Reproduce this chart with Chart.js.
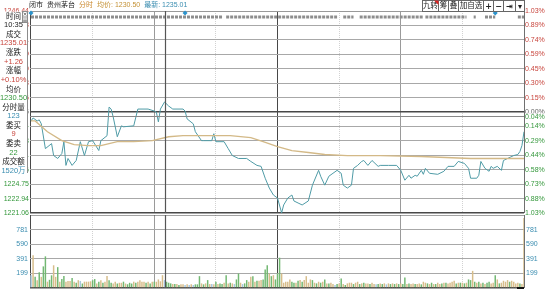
<!DOCTYPE html>
<html>
<head>
<meta charset="utf-8">
<script src="https://cdn.jsdelivr.net/npm/chart.js@4.4.1/dist/chart.umd.min.js"></script>
<style>
  body { margin: 0; background: #fff; }
  #box { position: relative; width: 550px; height: 289px; overflow: hidden; }
  #box canvas { position: absolute; left: 0; }
</style>
</head>
<body>
<div id="box">
  <canvas id="priceChart" width="550" height="217" style="top:0"></canvas>
  <canvas id="volChart" width="550" height="74" style="top:215px"></canvas>
</div>
<script>
// 贵州茅台 分时 (minute index 0 = 9:30, 240 = 15:00)
const prevClose = 1233.75;
const priceMax = 1246.44;
const priceMin = 1221.06;
const cursorMinute = 65;     // 10:35
const cursorPct = -0.04;

// [minute, price]
const priceTrace = [
  [0,1232.63],[1,1233.00],[3,1232.63],[4,1232.76],[5,1232.26],[7,1229.15],[10,1229.78],[11,1228.28],
  [13,1227.91],[15,1228.53],[16,1230.02],[17,1227.04],[18,1227.91],[20,1227.04],[22,1227.66],[24,1230.02],
  [26,1228.28],[28,1230.02],[30,1230.15],[33,1228.91],[34,1230.15],[37,1230.77],[38,1234.37],[39,1234.12],
  [40,1233.13],[42,1230.64],[44,1232.01],[45,1231.89],[50,1232.01],[52,1234.12],[57,1234.12],[60,1233.87],
  [61,1233.75],[62,1232.51],[63,1234.12],[65,1235.01],[67,1234.50],[69,1234.12],[74,1234.12],[75,1233.87],
  [76,1232.88],[79,1232.26],[80,1231.27],[83,1230.15],[84,1230.15],[88,1230.15],[89,1231.02],[90,1230.02],
  [94,1230.02],[96,1229.15],[98,1228.28],[101,1227.91],[105,1227.91],[107,1227.54],[110,1227.04],[112,1226.92],
  [114,1225.43],[116,1224.19],[118,1223.32],[120,1222.94],[122,1221.08],[123,1222.07],[125,1222.94],[127,1223.32],
  [128,1222.57],[130,1222.32],[132,1222.07],[135,1222.57],[137,1224.56],[140,1226.42],[141,1225.68],[143,1224.56],
  [145,1225.68],[147,1226.05],[149,1226.42],[151,1226.05],[152,1224.56],[154,1224.19],[156,1224.56],[157,1226.67],
  [159,1227.04],[161,1227.54],[162,1227.66],[164,1227.04],[166,1227.66],[169,1226.92],[170,1227.04],[174,1227.04],
  [178,1227.04],[180,1226.42],[182,1225.18],[184,1225.80],[185,1225.43],[187,1225.80],[188,1225.68],[190,1226.42],
  [191,1225.92],[192,1226.67],[194,1226.05],[198,1225.92],[201,1226.30],[203,1226.92],[206,1226.92],[208,1227.54],
  [211,1227.29],[213,1226.67],[214,1225.43],[217,1225.43],[218,1225.80],[219,1227.54],[221,1226.67],[223,1226.30],
  [224,1226.92],[225,1226.67],[227,1226.92],[229,1226.42],[230,1227.66],[232,1227.91],[235,1228.28],[237,1228.41],
  [238,1228.78],[239,1229.53],[240,1231.27]
];

// [minute, average price]
const avgTrace = [
  [0,1232.63],[2,1232.63],[8,1231.27],[15,1230.15],[21,1229.66],[28,1229.53],[34,1229.53],[42,1230.02],
  [50,1230.02],[59,1230.15],[67,1230.64],[74,1230.77],[97,1230.77],[107,1230.52],[113,1230.02],[120,1229.40],
  [127,1228.91],[135,1228.66],[143,1228.41],[154,1228.28],[170,1228.28],[190,1228.16],[214,1227.91],[240,1227.91]
];

// per-minute volume (手), minute 0..240
const volumes = [
  170,440,150,105,210,150,290,425,85,110, 170,305,150,280,85,120,160,85,95,95,
  135,85,70,105,95,60,85,85,85,90, 105,120,60,85,105,70,85,160,105,70,
  60,85,60,70,70,85,60,50,70,60, 85,70,85,105,85,85,70,85,60,85, 85,
  84,115,90,172,106,84,71,62,53,53, 53,40,49,49,40,49,40,49,40,49,
  49,159,62,49,62,106,53,53,49,84, 53,62,53,71,172,62,71,62,53,115,
  194,71,53,62,106,84,150,159,84,97, 97,106,115,248,305,194,159,172,115,
  194,407,194, 71,84,84,115,84,71,71,97,106,84, 106,159,71,115,106,71,62,84,71,84,
  115,62,62,71,53,40,53,62,128,53, 40,62,71,71,53,71,84,53,62,71,
  62,62,53,71,53,49,53,62,53,62, 49,62,53,62,53, 62,53,62,
  53,141,53,62,53,62,53,53,62,49, 84,71,62,53,71,53,53,71,53,62,
  71,71,62,71,84,97,62,71,71,71, 62,71,115,106,230,84,71,84,62,71,
  53,71,84,62,71,172,115,62,71,97, 84,106,84,97,84,62, 71,62,53, 940
];

// 1 = 外盘(up), -1 = 内盘(down), 0 = 平
const volDir = [
  0,1,-1,1,-1,1,-1,-1,1,-1, -1,1,1,-1,1,-1,-1,1,1,1, -1,1,-1,1,0,-1,1,1,1,1,
  -1,-1,1,-1,1,-1,1,1,-1,-1, 1,1,-1,1,1,-1,1,-1,-1,-1, 1,-1,1,1,1,1,-1,1,-1,1, -1,
  1,1,1,1,0,-1,-1,-1,1,-1, 1,-1,1,1,0,1,0,1,0,-1, -1,-1,1,-1,1,-1,1,0,1,-1,
  1,-1,-1,1,-1,1,-1,1,0,-1, -1,1,0,-1,-1,1,1,-1,1,-1, 1,1,-1,-1,-1,1,-1,1,-1,
  -1,-1,1, 1,1,1,1,-1,-1,1,-1,1,-1, 1,1,1,1,-1,1,-1,1,-1,1, -1,1,-1,1,1,0,-1,1,-1,1,
  -1,1,1,1,-1,1,1,-1,1,-1, 1,1,-1,1,1,0,-1,1,-1,1, 0,1,-1,1,-1, 1,-1,1,
  -1,-1,1,-1,1,1,-1,1,1,-1, 1,1,-1,1,-1,1,-1,1,1,-1, 1,-1,1,1,1,1,-1,1,-1,1,
  -1,1,-1,-1,1,-1,1,-1,1,-1, 1,-1,-1,1,1,-1,1,-1,1,1, 1,1,-1,1,1,1, 1,-1,1, 1
];

const gridMinutes = [-0.5, 30, 60, 90, 120, 150, 180, 210, 240];
const leftPriceLabels = ['1246.44','1244.63','1242.81','1241.00','1239.19','1237.38','1235.56','1233.75',
                         '1231.94','1230.13','1228.31','1226.56','1224.75','1222.94','1221.06'];
const pctLabels = ['1.03%','0.89%','0.74%','0.59%','0.45%','0.30%','0.15%','0.00%',
                   '0.14%','0.29%','0.44%','0.58%','0.73%','0.88%','1.03%'];
const volTickValues = [199, 391, 590, 781];
const volMax = 980;

const markerSegments = [[0,93],[95,149],[152,157],[160,191],[192,212],[215.5,216.5],[221,226],[237,240]];
const infoMarkers = [0, 75, 226];

const panelLabels = ['时间','成交','涨跌','涨幅','均价','分时量','委买','委卖','成交额'];
const panelValues = ['10:35','1235.01','+1.26','+0.10%','1230.50','123','9','22','1520万'];

const RED = '#c8453d', GREEN = '#35983c', TEAL = '#3a8db0', GRID = '#a8a8a8', DARK = '#484848';
const FONT = '"Liberation Sans", "Noto Sans CJK SC", sans-serif';
Chart.defaults.font.family = FONT;
Chart.defaults.font.size = 7;
Chart.defaults.animation = false;

function axisSteps(min, max, n) {
  const out = [];
  for (let i = 0; i <= n; i++) out.push(min + (max - min) * i / n);
  return out;
}
function sideColor(j) { return j < 7 ? RED : (j === 7 ? '#666' : GREEN); }

function xGridColor(v) {
  if (v === -0.5 || v === 120) return DARK;
  if (v === 240) return '#707070';
  if (v === 60 || v === 180) return '#9a9a9a';
  return '#d2d2d2';
}
function makeX() {
  return {
    type: 'linear', min: -0.5, max: 240, offset: false,
    afterBuildTicks: s => { s.ticks = gridMinutes.map(v => ({ value: v })); },
    afterFit: s => { s.height = 0; },
    ticks: { display: false },
    grid: { offset: false, drawTicks: false, lineWidth: 1, color: c => xGridColor(c.tick ? c.tick.value : 0) },
    border: { display: false, dash: c => (c.tick && xGridColor(c.tick.value) === '#d2d2d2') ? [1, 1] : [] }
  };
}
function noPad(w) {
  return s => { s.width = w; s.paddingTop = 0; s.paddingBottom = 0; };
}

const priceTicks = () => axisSteps(priceMin, priceMax, 14).map(v => ({ value: v }));
const pctPrice = prevClose * (1 + cursorPct / 100);

const crosshairV = {
  id: 'crosshairV',
  afterDatasetsDraw(chart) {
    const c = chart.ctx, a = chart.chartArea;
    const x = Math.round(chart.scales.x.getPixelForValue(cursorMinute)) + 0.5;
    c.save();
    c.strokeStyle = '#555';
    c.lineWidth = 1.2;
    c.beginPath(); c.moveTo(x, a.top); c.lineTo(x, a.bottom); c.stroke();
    c.restore();
  }
};

const pricePanel = {
  id: 'pricePanel',
  afterDraw(chart) {
    const c = chart.ctx, a = chart.chartArea;
    c.save();
    // horizontal crosshair
    const cy = Math.round(chart.scales.yPrice.getPixelForValue(pctPrice)) + 0.5;
    c.strokeStyle = '#888'; c.lineWidth = 1;
    c.beginPath(); c.moveTo(a.left, cy); c.lineTo(a.right, cy); c.stroke();
    c.fillStyle = '#fff'; c.fillRect(a.right + 1, cy - 3, 26, 8);
    c.font = '7px ' + FONT; c.textBaseline = 'middle'; c.fillStyle = GREEN;
    c.fillText(Math.abs(cursorPct).toFixed(2) + '%', a.right + 1, cy + 1);

    // header
    const parts = [['闭市', '#222'], ['贵州茅台', '#222'], ['分时', '#cc8a30'],
                   ['均价: ' + panelValues[4], '#c49236'], ['最新: ' + panelValues[1], TEAL]];
    let hx = 29;
    c.font = '7px ' + FONT;
    parts.forEach(([t, col]) => { c.fillStyle = col; c.fillText(t, hx, 5.5); hx += c.measureText(t).width + 4; });

    // buttons
    const btn = ['九转', '筹', '叠', '加自选', '+', '−', '⇥', '▾'];
    const edges = [422, 438, 448, 458, 483, 493, 503, 515, 524];
    c.textAlign = 'center';
    btn.forEach((t, i) => {
      const x0 = edges[i] + 0.5, w = edges[i + 1] - edges[i];
      c.fillStyle = '#fff'; c.fillRect(x0, 0.5, w, 11);
      c.strokeStyle = '#666'; c.strokeRect(x0, 0.5, w, 11);
      c.fillStyle = '#222';
      c.font = (i >= 4 ? 'bold 8px ' : '7.5px ') + '"DejaVu Sans", "Noto Sans CJK SC", sans-serif';
      c.fillText(t, x0 + w / 2, 6.5);
    });
    c.fillStyle = '#d22';
    c.beginPath(); c.moveTo(434, 0.5); c.lineTo(438.5, 0.5); c.lineTo(438.5, 5); c.closePath(); c.fill();

    // info panel
    c.fillStyle = '#fff'; c.fillRect(0, 11.5, 27.5, 165);
    c.strokeStyle = '#8c8c8c'; c.lineWidth = 1;
    c.beginPath(); c.moveTo(27.5, 11); c.lineTo(27.5, 173); c.stroke();
    c.strokeRect(22.5, 11.5, 5, 11);
    c.beginPath(); c.moveTo(22.5, 17); c.lineTo(27.5, 17); c.stroke();
    c.fillStyle = '#444'; c.font = '6px "DejaVu Sans"';
    c.fillText('×', 25, 14.5); c.fillText('≡', 25, 20);
    const valColors = ['#222', RED, RED, RED, GREEN, TEAL, RED, GREEN, TEAL];
    panelLabels.forEach((lab, i) => {
      c.fillStyle = '#222'; c.font = '7.5px "Noto Sans CJK SC", sans-serif';
      c.fillText(lab, 13.5, 16 + 9.1 * (2 * i));
      c.fillStyle = valColors[i]; c.font = '7.5px ' + FONT;
      c.fillText(panelValues[i], 13.5, 16 + 9.1 * (2 * i + 1));
    });
    c.restore();
  }
};

const volChrome = {
  id: 'volChrome',
  afterDraw(chart) {
    const c = chart.ctx, a = chart.chartArea;
    c.save();
    c.fillStyle = '#111';
    c.fillRect(a.right - 7, a.bottom - 1, 7, 3);
    c.restore();
  }
};

new Chart(document.getElementById('priceChart'), {
  type: 'line',
  data: {
    datasets: [
      {
        data: markerSegments.flatMap(([s, e]) => [{ x: s, y: 97 }, { x: e, y: 97 }, { x: e, y: null }]),
        yAxisID: 'yMark', borderColor: '#8d8d8d', borderWidth: 3, borderDash: [3, 1],
        pointRadius: 0, spanGaps: false
      },
      {
        data: infoMarkers.map(m => ({ x: m, y: 99 })),
        yAxisID: 'yMark', showLine: false, pointStyle: 'rectRot', pointRadius: 2.5,
        pointBackgroundColor: '#2b93cc', pointBorderWidth: 0, clip: false
      },
      {
        data: avgTrace.map(([m, p]) => ({ x: m, y: p })),
        yAxisID: 'yPrice', borderColor: '#d3b987', borderWidth: 1.3, pointRadius: 0, tension: 0
      },
      {
        data: priceTrace.map(([m, p]) => ({ x: m, y: p })),
        yAxisID: 'yPrice', borderColor: '#4f9ba6', borderWidth: 1, pointRadius: 0, tension: 0
      }
    ]
  },
  options: {
    responsive: false,
    devicePixelRatio: 1,
    layout: { padding: { top: 11, bottom: 2, left: 0, right: 0 } },
    plugins: { legend: { display: false }, tooltip: { enabled: false } },
    scales: {
      x: makeX(),
      yPrice: {
        position: 'left', min: priceMin, max: priceMax,
        afterBuildTicks: s => { s.ticks = priceTicks(); },
        afterFit: noPad(30),
        ticks: { padding: 1, autoSkip: false, callback: (v, i) => leftPriceLabels[14 - i], color: c => sideColor(14 - c.index) },
        grid: {
          drawTicks: false,
          color: c => (c.index === 0 || c.index === 7) ? DARK : (c.index === 14 ? '#999' : GRID),
          lineWidth: c => (c.index === 0 || c.index === 7) ? 1.6 : 1
        },
        border: { display: false }
      },
      yPct: {
        position: 'right', min: priceMin, max: priceMax,
        afterBuildTicks: s => { s.ticks = priceTicks(); },
        afterFit: noPad(26),
        ticks: { padding: 1, autoSkip: false, callback: (v, i) => pctLabels[14 - i], color: c => sideColor(14 - c.index) },
        grid: { drawOnChartArea: false, drawTicks: false },
        border: { display: false }
      },
      yMark: { display: false, min: 0, max: 100 }
    }
  },
  plugins: [crosshairV, pricePanel]
});

const dirColor = { '1': '#d7bd8b', '-1': '#72b872', '0': '#a7c8de' };
const volTicks = () => [0, ...volTickValues, volMax].map(v => ({ value: v }));
const volLabel = v => (v === 0 || v === volMax) ? '' : String(v);

new Chart(document.getElementById('volChart'), {
  type: 'bar',
  data: {
    datasets: [{
      data: volumes.map((v, i) => ({ x: i, y: v })),
      backgroundColor: volDir.map(d => dirColor[String(d)]),
      yAxisID: 'yVol', barPercentage: 0.72, categoryPercentage: 1
    }]
  },
  options: {
    responsive: false,
    devicePixelRatio: 1,
    layout: { padding: { top: 0, bottom: 1, left: 0, right: 0 } },
    plugins: { legend: { display: false }, tooltip: { enabled: false } },
    scales: {
      x: makeX(),
      yVol: {
        position: 'left', min: 0, max: volMax,
        afterBuildTicks: s => { s.ticks = volTicks(); },
        afterFit: noPad(30),
        ticks: { padding: 2, autoSkip: false, color: TEAL, callback: v => volLabel(v) },
        grid: {
          drawTicks: false,
          color: c => (c.index === 0 || c.index === 5) ? DARK : GRID,
          lineWidth: c => (c.index === 0 || c.index === 5) ? 1.6 : 1
        },
        border: { display: false }
      },
      yVolR: {
        position: 'right', min: 0, max: volMax,
        afterBuildTicks: s => { s.ticks = volTicks(); },
        afterFit: noPad(26),
        ticks: { padding: 2, autoSkip: false, color: TEAL, callback: v => volLabel(v) },
        grid: { drawOnChartArea: false, drawTicks: false },
        border: { display: false }
      }
    }
  },
  plugins: [crosshairV, volChrome]
});
</script>
</body>
</html>
